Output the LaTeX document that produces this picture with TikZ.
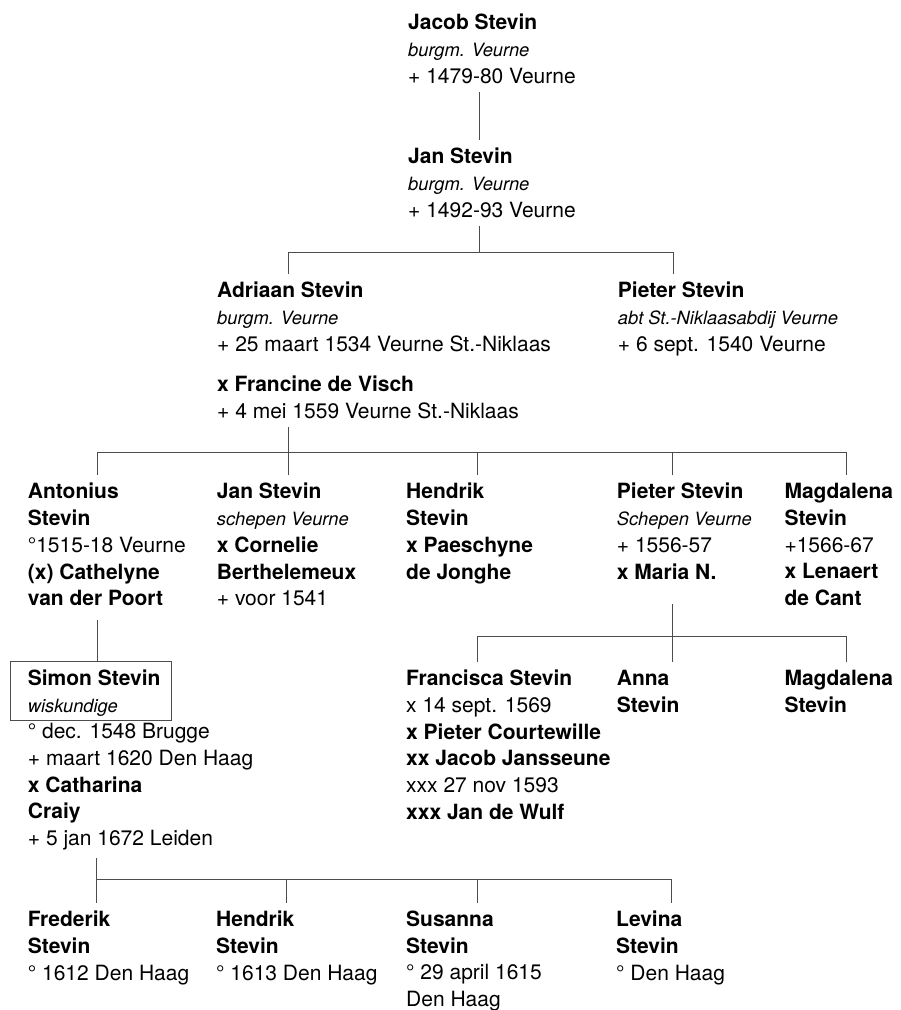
\documentclass[tikz,border=0pt]{standalone}
\usepackage{fontspec}
\setmainfont{TeX Gyre Heros}
\usepackage{tikz}
\tikzstyle{persoon}=[inner xsep=0pt,inner ysep=8pt,anchor=north west,yshift=23.2pt,align=left,font=\fontsize{21}{26.7}\selectfont]
\tikzstyle{tak}=[draw=black!70,line width=0.8pt]
\newcommand{\functie}[1]{{\fontsize{18.3}{26.7}\selectfont\itshape #1}}

\begin{document}
\begin{tikzpicture}[x=1pt,y=-1pt]
\useasboundingbox (0,0) rectangle (901,1010);
% stamvader en zoon
\node[persoon] (jacob) at (408,29.3) {\textbf{Jacob Stevin}\\\functie{burgm. Veurne}\\+ 1479-80 Veurne};
\node[persoon] (jan) at (408,163) {\textbf{Jan Stevin}\\\functie{burgm. Veurne}\\+ 1492-93 Veurne};
% kinderen van Jan
\node[persoon] (adriaan) at (217,297) {\textbf{Adriaan Stevin}\\\functie{burgm. Veurne}\\+ 25 maart 1534 Veurne St.-Niklaas};
\node[persoon] (francine) at (217,391.3) {\textbf{x Francine de Visch}\\+ 4 mei 1559 Veurne St.-Niklaas};
\node[persoon] (pieter) at (617.7,297) {\textbf{Pieter Stevin}\\\functie{abt St.-Niklaasabdij Veurne}\\+ 6 sept. 1540 Veurne};
% kinderen van Adriaan
\node[persoon] (antonius) at (27.7,498.3) {\textbf{Antonius}\\\textbf{Stevin}\\°1515-18 Veurne\\\textbf{(x) Cathelyne}\\\textbf{van der Poort}};
\node[persoon] (jan2) at (216.7,498.3) {\textbf{Jan Stevin}\\\functie{schepen Veurne}\\\textbf{x Cornelie}\\\textbf{Berthelemeux}\\+ voor 1541};
\node[persoon] (hendrik) at (406,498.3) {\textbf{Hendrik}\\\textbf{Stevin}\\\textbf{x Paeschyne}\\\textbf{de Jonghe}};
\node[persoon] (pieter2) at (616.7,498.3) {\textbf{Pieter Stevin}\\\functie{Schepen Veurne}\\+ 1556-57\\\textbf{x Maria N.}};
\node[persoon] (magdalena) at (784.3,498.3) {\textbf{Magdalena}\\\textbf{Stevin}\\+1566-67\\\textbf{x Lenaert}\\\textbf{de Cant}};
% Simon
\node[persoon] (simon) at (27.7,685) {\textbf{Simon Stevin}\\\functie{wiskundige}};
\node[persoon] (simonb) at (27.7,738.3) {° dec. 1548 Brugge\\+ maart 1620 Den Haag\\\textbf{x Catharina}\\\textbf{Craiy}\\+ 5 jan 1672 Leiden};
% kinderen van Pieter
\node[persoon] (francisca) at (406,685) {\textbf{Francisca Stevin}\\x 14 sept. 1569\\\textbf{x Pieter Courtewille}\\\textbf{xx Jacob Jansseune}\\xxx 27 nov 1593\\\textbf{xxx Jan de Wulf}};
\node[persoon] (anna) at (616.7,685) {\textbf{Anna}\\\textbf{Stevin}};
\node[persoon] (magdalena2) at (784.3,685) {\textbf{Magdalena}\\\textbf{Stevin}};
% kinderen van Simon
\node[persoon] (frederik) at (27.7,926) {\textbf{Frederik}\\\textbf{Stevin}\\° 1612 Den Haag};
\node[persoon] (hendrik2) at (216,926) {\textbf{Hendrik}\\\textbf{Stevin}\\° 1613 Den Haag};
\node[persoon] (susanna) at (406,926) {\textbf{Susanna}\\\textbf{Stevin}\\° 29 april 1615\\Den Haag};
\node[persoon] (levina) at (616,926) {\textbf{Levina}\\\textbf{Stevin}\\° Den Haag};
% takken
\coordinate (t1) at (479,252);
\coordinate (t1a) at (288,252);
\coordinate (t1b) at (673,252);
\coordinate (t2) at (288,452);
\coordinate (t2a) at (97.7,452);
\coordinate (t2b) at (846,452);
\coordinate (t2c) at (477,452);
\coordinate (t2d) at (672,452);
\coordinate (t3) at (672,636.7);
\coordinate (t3a) at (477,636.7);
\coordinate (t3b) at (846,636.7);
\coordinate (t4) at (96.7,879);
\coordinate (t4b) at (671.7,879);
\coordinate (t4c) at (286.7,879);
\coordinate (t4d) at (477,879);
\draw[tak] (jacob.south -| t1)--(jan.north -| t1);
\draw[tak] (jan.south -| t1)--(t1);
\draw[tak] (adriaan.north -| t1a)--(t1a)--(t1b)--(pieter.north -| t1b);
\draw[tak] (francine.south -| t2)--(jan2.north -| t2);
\draw[tak] (antonius.north -| t2a)--(t2a)--(t2b)--(magdalena.north -| t2b);
\draw[tak] (t2c)--(hendrik.north -| t2c);
\draw[tak] (t2d)--(pieter2.north -| t2d);
\draw[tak] ([yshift=-6pt]antonius.south -| t2a)--(simon.north -| t2a);
\draw[tak] ([xshift=-17pt]simon.north west) rectangle ([xshift=11pt,yshift=4pt]simon.south east);
\draw[tak] ([yshift=-17pt]pieter2.south -| t3)--(anna.north -| t3);
\draw[tak] (francisca.north -| t3a)--(t3a)--(t3b)--(magdalena2.north -| t3b);
\draw[tak] (simonb.south -| t4)--(frederik.north -| t4);
\draw[tak] (t4)--(t4b)--(levina.north -| t4b);
\draw[tak] (t4c)--(hendrik2.north -| t4c);
\draw[tak] (t4d)--(susanna.north -| t4d);
\end{tikzpicture}
\end{document}
